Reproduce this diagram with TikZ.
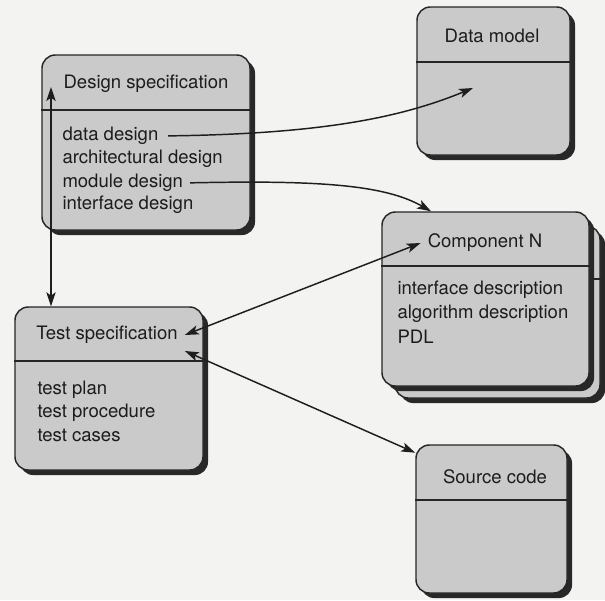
\documentclass[tikz,border=0pt]{standalone}
\usepackage{fontspec}
\setmainfont{TeX Gyre Heros}
\usetikzlibrary{arrows.meta,shadows}

\tikzset{every picture/.style={line width=0.75pt}}
\tikzset{
  card/.style={draw={rgb, 255:red, 38; green, 38; blue, 38}, fill={rgb, 255:red, 202; green, 202; blue, 202}, line width=1.1pt, rounded corners=10pt, inner sep=0pt,
    drop shadow={shadow xshift=3.8pt, shadow yshift=-3.8pt, opacity=1, fill={rgb, 255:red, 40; green, 40; blue, 40}}},
  divider/.style={draw={rgb, 255:red, 38; green, 38; blue, 38}, line width=1.1pt},
  cardtitle/.style={font=\fontsize{13.9}{16}\selectfont, text={rgb, 255:red, 28; green, 28; blue, 28}, inner sep=5pt},
  carditem/.style={cardtitle, anchor=west, inner sep=0pt},
  link/.style={draw={rgb, 255:red, 30; green, 30; blue, 30}, line width=1.1pt, >={Stealth[length=10.5pt,width=7pt,inset=2.5pt]}}
}

\begin{document}
\begin{tikzpicture}[x=0.75pt,y=0.75pt,yscale=-1,xscale=1]
	\useasboundingbox (0,0) rectangle (605,600);
	\fill[fill={rgb, 255:red, 243; green, 243; blue, 242}] (0,0) rectangle (605,600);

	% Design specification card
	\node[card, minimum width=156pt, minimum height=131.25pt] (dsbox) at (146,142.5) {};
	\draw[divider] (dsbox.west |- 0,110) -- (dsbox.east |- 0,110);
	% Data model card
	\node[card, minimum width=114.75pt, minimum height=111pt] (dmbox) at (493.5,81) {};
	\draw[divider] (dmbox.west |- 0,62) -- (dmbox.east |- 0,62);
	% Component N cards (back copy, then front)
	\node[card, minimum width=153.75pt, minimum height=129pt] (cnback) at (497.5,312) {};
	\draw[divider] (cnback.west |- 0,279) -- (cnback.east |- 0,279);
	\node[card, minimum width=155.25pt, minimum height=130.5pt] (cnbox) at (485.5,299) {};
	\draw[divider] (cnbox.west |- 0,266) -- (cnbox.east |- 0,266);
	% Test specification card
	\node[card, minimum width=141pt, minimum height=122.25pt] (tsbox) at (109,388.5) {};
	\draw[divider] (tsbox.west |- 0,361) -- (tsbox.east |- 0,361);
	% Source code card
	\node[card, minimum width=113.25pt, minimum height=111pt] (scbox) at (491.5,519) {};
	\draw[divider] (scbox.west |- 0,500) -- (scbox.east |- 0,500);

	% Titles
	\node[cardtitle] (ds) at (146,84) {Design specification};
	\node[cardtitle] (dm) at (492,36) {Data model};
	\node[cardtitle] (cn) at (485,243) {Component N};
	\node[cardtitle] (ts) at (107,335) {Test specification};
	\node[cardtitle] (sc) at (495,477) {Source code};

	% Items
	\node[carditem] (dd) at (62,136) {data design};
	\node[carditem] (ad) at (62,159) {architectural design};
	\node[carditem] (md) at (62,183) {module design};
	\node[carditem] (id) at (62,205) {interface design};
	\node[carditem] (ifd) at (397,290) {interface description};
	\node[carditem] (ald) at (397,314) {algorithm description};
	\node[carditem] (pdl) at (397,337) {PDL};
	\node[carditem] (tp) at (37,390) {test plan};
	\node[carditem] (tpr) at (37,413) {test procedure};
	\node[carditem] (tc) at (37,435) {test cases};

	% Connectors
	\coordinate (dmin) at (473,88);
	\coordinate (dsup) at (51,87);
	\draw[link,->,shorten <=7pt] (dd.east) .. controls (320,134) and (400,118) .. (dmin);
	\draw[link,->,shorten <=5pt] (md.east) .. controls (320,180) and (385,185) .. (cnbox.north -| 431,0);
	\draw[link,<->] (ts.east) -- (cn.west);
	\draw[link,<->] (ts.south east) -- (scbox.139);
	\draw[link,<->] (dsup) -- (dsup |- tsbox.north);

\end{tikzpicture}
\end{document}
